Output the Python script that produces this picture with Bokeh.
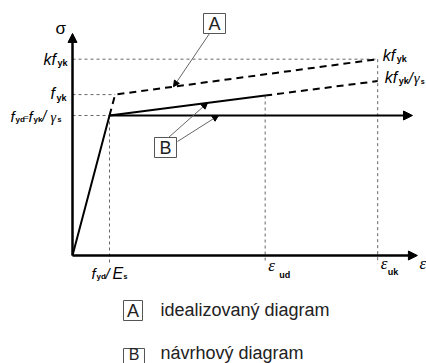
import numpy as np
from bokeh.plotting import figure
from bokeh.models import Range1d, Arrow, NormalHead, ColumnDataSource
from bokeh.core.properties import value, field
from bokeh.embed import file_html
from bokeh.resources import INLINE

# ---------------- data (strain in per mille, stress in MPa) ----------------
eps_yd = 2.17      # f_yd / E_s
eps_yk = 2.5       # f_yk / E_s
eps_ud = 11.3
eps_uk = 17.9
f_yd = 435
f_yk = 500
kf_yk = 610
sig_B_ud = 497     # design diagram stress at eps_ud
sig_B_uk = 542     # k f_yk / gamma_s at eps_uk
eps_axis_max = 20.23
sig_axis_max = 690
eps_flat_end = 19.94

A_eps = [eps_yd, eps_yk, eps_uk]
A_sig = [f_yd, f_yk, kf_yk]
B_eps = [0, eps_yd, eps_ud]
B_sig = [0, f_yd, sig_B_ud]
B_ext_eps = [eps_ud, eps_uk]
B_ext_sig = [sig_B_ud, sig_B_uk]

legend_keys = ["A", "B"]
legend_texts = ["idealizovaný diagram", "návrhový diagram"]

# ---------------- scale (pixels per unit) ----------------
W, H = 426, 363
KX = 17.05          # px per strain unit
KY = 0.32184        # px per MPa
OX, OY = 72, 255    # origin position in canvas pixels
X0 = -OX / KX
X1 = X0 + W / KX
Y1 = OY / KY
Y0 = Y1 - H / KY

def wx(px):  # canvas x pixel -> data
    return (px - OX) / KX

def wy(py):
    return (OY - py) / KY

p = figure(width=W, height=H, x_range=Range1d(X0, X1), y_range=Range1d(Y0, Y1),
           output_backend="svg", toolbar_location=None, min_border=0,
           x_axis_type=None, y_axis_type=None)
p.outline_line_color = None
p.background_fill_color = "white"
p.border_fill_color = "white"

# ---------------- reference dotted lines ----------------
below = -8 / KY
ref_xs = [[0, eps_uk], [0, eps_yk], [0, eps_yd],
          [eps_yd, eps_yd], [eps_ud, eps_ud], [eps_uk, eps_uk]]
ref_ys = [[kf_yk, kf_yk], [f_yk, f_yk], [f_yd, f_yd],
          [f_yd, below], [sig_B_ud, below], [kf_yk, below]]
p.multi_line(ref_xs, ref_ys, line_color="#666666", line_width=1, line_dash="3 3")

# ---------------- diagrams ----------------
p.line(A_eps, A_sig, line_color="black", line_width=2, line_dash="7 5")
p.line(B_ext_eps, B_ext_sig, line_color="black", line_width=2, line_dash="7 5")
p.line(B_eps, B_sig, line_color="black", line_width=2)
p.add_layout(Arrow(x_start=eps_yd, y_start=f_yd, x_end=eps_flat_end, y_end=f_yd,
                   line_color="black", line_width=2.2,
                   end=NormalHead(size=9, fill_color="black", line_color="black")))

# ---------------- axes ----------------
p.add_layout(Arrow(x_start=0, y_start=0, x_end=eps_axis_max, y_end=0,
                   line_color="black", line_width=2.5,
                   end=NormalHead(size=9, fill_color="black", line_color="black")))
p.add_layout(Arrow(x_start=0, y_start=0, x_end=0, y_end=sig_axis_max,
                   line_color="black", line_width=2.5,
                   end=NormalHead(size=9, fill_color="black", line_color="black")))

# ---------------- leader arrows ----------------
tipA_eps = wx(173)
tipB1_eps = wx(207)
tipB2_eps = wx(218)
lead_x0 = [wx(209), wx(168), wx(177)]
lead_y0 = [wy(33), wy(137), wy(141)]
lead_x1 = [tipA_eps, tipB1_eps, tipB2_eps]
lead_y1 = [float(np.interp(tipA_eps, A_eps, A_sig)),
           float(np.interp(tipB1_eps, B_eps, B_sig)),
           f_yd]
lead_src = ColumnDataSource(dict(x0=lead_x0, y0=lead_y0, x1=lead_x1, y1=lead_y1))
p.add_layout(Arrow(x_start="x0", y_start="y0", x_end="x1", y_end="y1", source=lead_src,
                   line_color="#666666", line_width=1,
                   end=NormalHead(size=6, fill_color="black", line_color="black")))

# ---------------- boxes ----------------
box_x = [wx(214), wx(165), wx(132.5), wx(133.5)]
box_y = [wy(23), wy(147), wy(310), wy(356)]
box_w = [22, 22, 19, 21]
box_h = [20, 20, 20, 16]
box_t = ["A", "B", legend_keys[0], legend_keys[1]]
box_ty = [wy(23), wy(147), wy(310), wy(354)]
box_fs = ["18px", "18px", "18px", "16px"]
bsrc = ColumnDataSource(dict(x=box_x, y=box_y, w=box_w, h=box_h, t=box_t, ty=box_ty, fs=box_fs))
p.rect(x="x", y="y", width="w", height="h", width_units="screen", height_units="screen",
       source=bsrc, fill_color="white", line_color="#555555", line_width=1)
p.text(x="x", y="ty", text="t", source=bsrc, text_font=value("Liberation Sans"),
       text_font_size=field("fs"), text_align="center", text_baseline="middle",
       text_color="#222222")

# ---------------- text pieces ----------------
pieces = []
def put(ax, ay, ox, oy, text, size, style="normal", font="Liberation Sans", color="black"):
    pieces.append(dict(x=ax + ox / KX, y=ay - oy / KY, text=text, size=f"{size}px",
                       style=style, font=font, color=color))

# sigma axis label
put(0, sig_axis_max, -17, -5, "σ", 17)
# left labels
put(0, kf_yk, -29, 0, "k", 16, "italic")
put(0, kf_yk, -21, 0, "f", 16, "italic")
put(0, kf_yk, -15, 4, "yk", 9, "bold")
put(0, f_yk, -22, -1, "f", 16, "italic")
put(0, f_yk, -16, 3, "yk", 9, "bold")
put(0, f_yd, -62, 1, "f", 15, "italic")
put(0, f_yd, -57, 4, "yd", 8, "bold")
put(0, f_yd, -49, 2, "=", 9)
put(0, f_yd, -44, 1, "f", 15, "italic")
put(0, f_yd, -39, 4, "yk", 8, "bold")
put(0, f_yd, -30, 1, "/", 14, "italic")
put(0, f_yd, -22, 2, "γ", 14, "italic", "Liberation Serif")
put(0, f_yd, -15, 4, "s", 7, "bold")
# right labels
put(eps_uk, kf_yk, 5, -4, "k", 16, "italic")
put(eps_uk, kf_yk, 13, -4, "f", 16, "italic")
put(eps_uk, kf_yk, 19, 0, "yk", 9, "bold")
put(eps_uk, sig_B_uk, 7, -4, "k", 16, "italic")
put(eps_uk, sig_B_uk, 15, -4, "f", 16, "italic")
put(eps_uk, sig_B_uk, 21, 0, "yk", 9, "bold")
put(eps_uk, sig_B_uk, 31, -4, "/", 15, "italic")
put(eps_uk, sig_B_uk, 36, -3, "γ", 15, "italic", "Liberation Serif")
put(eps_uk, sig_B_uk, 43, 0, "s", 7, "bold")
# bottom labels
put(eps_yd, 0, -18, 18, "f", 15, "italic")
put(eps_yd, 0, -13, 21, "yd", 8, "bold")
put(eps_yd, 0, -4, 18, "/", 15, "italic")
put(eps_yd, 0, 3, 18, "E", 16, "italic")
put(eps_yd, 0, 14, 21, "s", 7, "bold")
put(eps_ud, 0, 3, 10, "ε", 17, "italic", "Liberation Serif")
put(eps_ud, 0, 14, 19, "ud", 9, "bold")
put(eps_uk, 0, 3, 8, "ε", 17, "italic", "Liberation Serif")
put(eps_uk, 0, 10, 16, "uk", 9, "bold")
put(eps_axis_max, 0, 2, 8, "ε", 17, "italic", "Liberation Serif")
# legend texts
put(wx(160), wy(309), 0, 0, legend_texts[0], 18, color="#222222")
put(wx(160), wy(352), 0, 0, legend_texts[1], 18, color="#222222")

tsrc = ColumnDataSource({k: [pc[k] for pc in pieces] for k in pieces[0]})
p.text(x="x", y="y", text="text", source=tsrc, text_font=field("font"),
       text_font_size=field("size"), text_font_style=field("style"),
       text_color=field("color"), text_align="left", text_baseline="middle")

open("out.html", "w").write(file_html(p, INLINE))
